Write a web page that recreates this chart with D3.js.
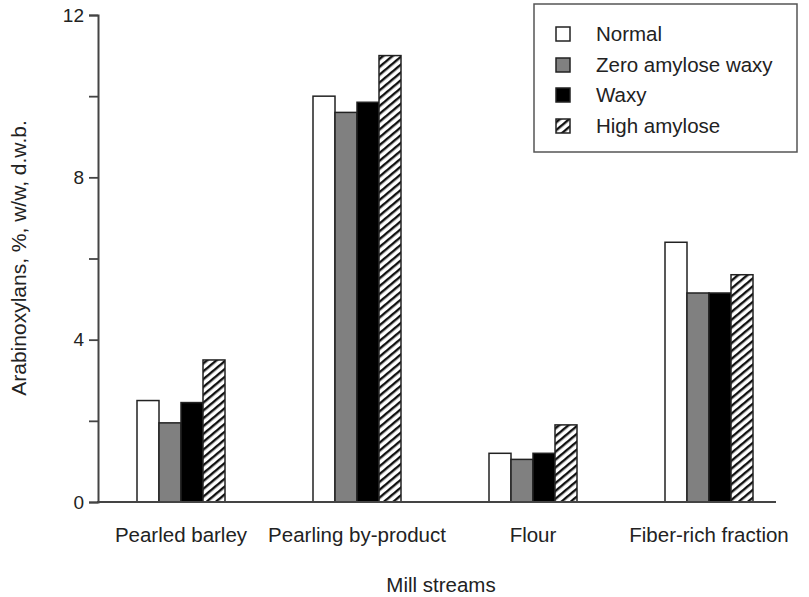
<!DOCTYPE html>
<html><head><meta charset="utf-8">
<script src="https://cdn.jsdelivr.net/npm/d3@7"></script>
<style>body{margin:0;background:#fff}svg{display:block;font-family:"Liberation Sans",Arial,sans-serif}</style>
</head><body><svg id="c" width="809" height="597"></svg>
<script>
const categories = ["Pearled barley", "Pearling by-product", "Flour", "Fiber-rich fraction"];
const seriesNames = ["Normal", "Zero amylose waxy", "Waxy", "High amylose"];
const normal = [2.5, 10.0, 1.2, 6.4];
const zeroAmyloseWaxy = [1.95, 9.6, 1.05, 5.15];
const waxy = [2.45, 9.85, 1.2, 5.15];
const highAmylose = [3.5, 11.0, 1.9, 5.6];
const yTicks = [0, 2, 4, 6, 8, 10, 12];
const yLabeled = [0, 4, 8, 12];
const series = [normal, zeroAmyloseWaxy, waxy, highAmylose];

const svg = d3.select("#c");
const defs = svg.append("defs");
const pat = defs.append("pattern").attr("id","hatch").attr("patternUnits","userSpaceOnUse")
  .attr("width",6).attr("height",6).attr("patternTransform","rotate(50)");
pat.append("rect").attr("width",6).attr("height",6).attr("fill","#fff");
pat.append("rect").attr("x",0).attr("width",2.4).attr("height",6).attr("fill","#111");

const fills = ["#fff", "#808080", "#000", "url(#hatch)"];
const y = d3.scaleLinear().domain([0,12]).range([502,15]);
const x0 = d3.scaleBand().domain(categories).range([93,797]).paddingInner(0.5).paddingOuter(0.25);
const x1 = d3.scaleBand().domain(d3.range(4)).range([0,x0.bandwidth()]);

const ink = "#222";
const fs = 20.5;
// bars
categories.forEach((c,ci)=>{
  series.forEach((s,si)=>{
    svg.append("rect").attr("x",x0(c)+x1(si)).attr("y",y(s[ci]))
      .attr("width",x1.bandwidth()).attr("height",y(0)-y(s[ci]))
      .attr("fill",fills[si]).attr("stroke","#222").attr("stroke-width",1.5);
  });
});

// y axis
const yAxis = d3.axisLeft(y).tickValues(yTicks).tickSize(9)
  .tickFormat(d=>yLabeled.includes(d)?d:"");
const gy = svg.append("g").attr("transform","translate(98,0)").call(yAxis);
gy.select(".domain").attr("stroke","#444").attr("stroke-width",2);
gy.selectAll(".tick line").attr("stroke","#444").attr("stroke-width",1.8);
gy.selectAll(".tick text").attr("font-size",19).attr("fill",ink).attr("font-family","Liberation Sans, Arial, sans-serif").attr("x",-14);

// x axis line
svg.append("line").attr("x1",97).attr("x2",776).attr("y1",y(0)).attr("y2",y(0)).attr("stroke","#444").attr("stroke-width",2);

// category labels
svg.selectAll(".cl").data(categories).join("text").attr("class","cl")
  .attr("x",d=>x0(d)+x0.bandwidth()/2).attr("y",542).attr("text-anchor","middle")
  .attr("font-size",fs).attr("fill",ink).text(d=>d);

svg.append("text").attr("x",441).attr("y",592).attr("text-anchor","middle")
  .attr("font-size",fs).attr("fill",ink).text("Mill streams");
svg.append("text").attr("transform","translate(26,258) rotate(-90)").attr("text-anchor","middle")
  .attr("font-size",21).attr("fill",ink).text("Arabinoxylans, %, w/w, d.w.b.");

// legend
svg.append("rect").attr("x",534).attr("y",4).attr("width",263).attr("height",148)
  .attr("fill","#fff").attr("stroke","#555").attr("stroke-width",1.5);
const ly = [34, 65, 95, 126];
seriesNames.forEach((n,i)=>{
  svg.append("rect").attr("x",556).attr("y",ly[i]-7).attr("width",14).attr("height",14)
    .attr("fill",fills[i]).attr("stroke","#222").attr("stroke-width",1.5);
  svg.append("text").attr("x",596).attr("y",ly[i]+7).attr("font-size",fs).attr("fill",ink).text(n);
});
</script></body></html>
